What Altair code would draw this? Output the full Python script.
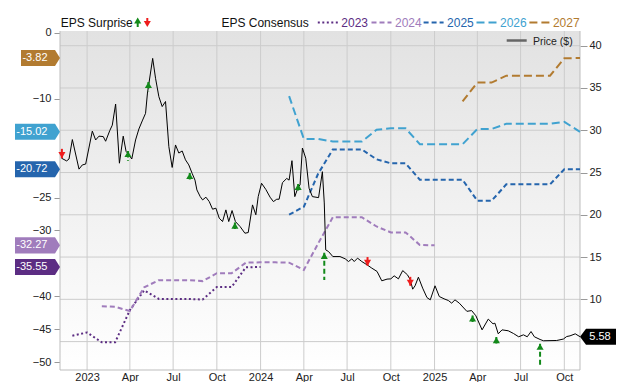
import altair as alt
import pandas as pd

FONT = "Liberation Sans, Arial, Helvetica, sans-serif"
W, H = 520, 339

# ---------------- data ----------------
price_dates = [
    "2022-11-08", "2022-11-19", "2022-11-24", "2022-12-01", "2022-12-15", "2022-12-22", "2022-12-29", "2023-01-12", "2023-01-19", "2023-01-26",
    "2023-02-04", "2023-02-09", "2023-02-18", "2023-02-23", "2023-03-02", "2023-03-10", "2023-03-18", "2023-03-24", "2023-03-30", "2023-04-05",
    "2023-04-13", "2023-04-20", "2023-04-27", "2023-05-04", "2023-05-08", "2023-05-19", "2023-05-25", "2023-06-01", "2023-06-08", "2023-06-15",
    "2023-06-22", "2023-06-29", "2023-07-06", "2023-07-13", "2023-07-20", "2023-07-27", "2023-08-03", "2023-08-10", "2023-08-16", "2023-08-20",
    "2023-08-27", "2023-09-01", "2023-09-08", "2023-09-15", "2023-09-22", "2023-09-29", "2023-10-06", "2023-10-13", "2023-10-20", "2023-10-26",
    "2023-11-02", "2023-11-09", "2023-11-19", "2023-11-29", "2023-12-06", "2023-12-15", "2023-12-22", "2023-12-27", "2024-01-03", "2024-01-12",
    "2024-01-21", "2024-01-28", "2024-02-04", "2024-02-09", "2024-02-16", "2024-02-25", "2024-03-01", "2024-03-07", "2024-03-13", "2024-03-20",
    "2024-03-24", "2024-03-29", "2024-04-05", "2024-04-12", "2024-04-19", "2024-05-02", "2024-05-10", "2024-05-14", "2024-05-17", "2024-05-23",
    "2024-06-01", "2024-06-16", "2024-06-27", "2024-07-04", "2024-07-11", "2024-07-16", "2024-07-23", "2024-08-01", "2024-08-12", "2024-08-22",
    "2024-09-02", "2024-09-12", "2024-09-23", "2024-10-01", "2024-10-08", "2024-10-17", "2024-10-26", "2024-11-05", "2024-11-11", "2024-11-16",
    "2024-11-21", "2024-11-28", "2024-12-07", "2024-12-16", "2024-12-23", "2025-01-02", "2025-01-11", "2025-01-21", "2025-01-30", "2025-02-06",
    "2025-02-13", "2025-02-22", "2025-03-10", "2025-03-20", "2025-03-29", "2025-04-11", "2025-04-24", "2025-05-04", "2025-05-08", "2025-05-15",
    "2025-05-23", "2025-06-05", "2025-06-16", "2025-06-27", "2025-07-07", "2025-07-15", "2025-07-23", "2025-07-30", "2025-08-11", "2025-08-18",
    "2025-09-15", "2025-09-29", "2025-10-06", "2025-10-13", "2025-10-24", "2025-11-03",
]
price_values = [
    26.7, 26.37, 26.6, 28.9, 25.4, 25.9, 26.0, 29.9, 28.85, 29.3,
    29.25, 28.7, 30.0, 30.6, 33.1, 26.1, 29.3, 27.5, 27.1, 26.6,
    28.85, 30.15, 31.1, 32.0, 34.4, 38.5, 36.15, 33.97, 32.8, 33.4,
    28.06, 25.6, 28.26, 27.3, 27.55, 26.5, 25.9, 24.9, 24.1, 22.94,
    22.15, 21.76, 22.08, 21.56, 20.66, 20.78, 19.6, 19.2, 20.58, 19.2,
    20.5, 19.2, 18.6, 17.82, 17.9, 21.17, 20.0, 22.15, 23.73, 23.0,
    22.08, 21.56, 21.84, 21.84, 23.8, 24.3, 24.1, 26.4, 22.15, 23.26,
    23.53, 27.9, 26.69, 23.14, 22.15, 22.03, 25.1, 21.4, 15.85, 15.65,
    15.06, 15.06, 14.79, 14.47, 14.79, 14.47, 14.87, 14.47, 14.08, 13.69,
    13.3, 12.19, 12.39, 12.42, 12.78, 12.42, 13.4, 12.9, 12.3, 11.2,
    11.6, 12.62, 11.32, 10.21, 9.94, 11.6, 10.33, 10.06, 9.86, 9.55,
    9.94, 9.55, 8.58, 8.67, 8.05, 6.39, 7.66, 7.1, 7.18, 5.92,
    6.39, 6.28, 5.96, 5.57, 5.8, 5.57, 6.19, 5.57, 5.25, 5.1,
    5.13, 5.3, 5.6, 5.68, 5.92, 5.58,
]

fy_labels = ["2023", "2024", "2025", "2026", "2027"]
fy_colors = ["#5c2d83", "#a07cbc", "#2565ad", "#40a2d0", "#b27b30"]
fy_dashes = [[2, 2.5], [5, 3], [5, 3], [8, 4], [8, 4]]

eps2023_dates = ["2022-12-01", "2023-01-01", "2023-02-01", "2023-03-01", "2023-04-01", "2023-05-01", "2023-06-01",
                 "2023-07-01", "2023-08-01", "2023-09-01", "2023-10-01", "2023-11-01", "2023-12-01", "2024-01-01"]
eps2023_values = [-46.0, -45.5, -47.0, -47.0, -42.1, -39.1, -40.4, -40.4, -40.4, -40.5, -38.6, -38.6, -35.6, -35.55]

eps2024_dates = ["2023-02-01", "2023-03-01", "2023-04-01", "2023-05-01", "2023-06-01", "2023-07-01", "2023-08-01",
                 "2023-09-01", "2023-10-01", "2023-11-01", "2023-12-01", "2024-01-01", "2024-02-01", "2024-03-01",
                 "2024-04-01", "2024-05-01", "2024-06-01", "2024-07-01", "2024-08-01", "2024-09-01", "2024-10-01",
                 "2024-11-01", "2024-12-01", "2025-01-01"]
eps2024_values = [-41.5, -41.6, -42.25, -38.65, -37.55, -37.55, -37.55, -37.7, -36.5, -36.5, -34.9, -34.85, -34.85, -34.9,
                  -36.0, -32.0, -28.0, -28.0, -28.0, -29.4, -30.3, -30.3, -32.2, -32.27]

eps2025_dates = ["2024-03-01", "2024-04-01", "2024-05-01", "2024-06-01", "2024-07-01", "2024-08-01", "2024-09-01",
                 "2024-10-01", "2024-11-01", "2024-12-01", "2025-01-01", "2025-02-01", "2025-03-01", "2025-04-01",
                 "2025-05-01", "2025-06-01", "2025-07-01", "2025-08-01", "2025-09-01", "2025-10-01", "2025-11-03"]
eps2025_values = [-27.6, -26.4, -21.4, -17.7, -17.7, -17.7, -19.2, -19.8, -19.8, -22.3, -22.3, -22.3, -22.3, -25.5,
                  -25.5, -23.0, -23.0, -23.0, -23.0, -20.7, -20.72]

eps2026_dates = eps2025_dates
eps2026_values = [-9.6, -16.1, -16.1, -16.5, -16.5, -16.5, -14.7, -14.5, -14.5, -16.9, -16.9, -16.9, -16.9, -14.6,
                  -14.6, -13.8, -13.8, -13.8, -13.8, -13.5, -15.02]

eps2027_dates = ["2025-03-01", "2025-04-01", "2025-05-01", "2025-06-01", "2025-07-01", "2025-08-01", "2025-09-01",
                 "2025-10-01", "2025-11-03"]
eps2027_values = [-10.4, -7.55, -7.55, -6.5, -6.5, -6.5, -6.5, -3.85, -3.82]

# EPS surprise arrows (placed on the price line)
up_dates = ["2023-03-28", "2023-05-10", "2023-08-05", "2023-11-08", "2024-03-20", "2024-05-14", "2025-03-22", "2025-05-11", "2025-08-11"]
up_tips = [27.55, 35.7, 24.95, 19.08, 23.65, 15.5, 8.08, 5.53, 4.74]
up_tails = [26.4, 34.6, 23.9, 18.1, 22.7, 12.3, 7.2, 4.6, 2.0]
up_long = [False, False, False, False, False, True, False, False, True]

down_dates = ["2022-11-09", "2024-08-13", "2024-11-11"]
down_tails = [27.8, 15.0, 12.66]
down_tips = [26.7, 13.96, 11.6]

x_ticks = ["2023-01-01", "2023-04-01", "2023-07-01", "2023-10-01", "2024-01-01", "2024-04-01", "2024-07-01",
           "2024-10-01", "2025-01-01", "2025-04-01", "2025-07-01", "2025-10-01"]
price_grid = [5, 10, 15, 20, 25, 30, 35, 40]
price_labels = [10, 15, 20, 25, 30, 35, 40]          # "5" sits under the price tag
eps_labels = [-50, -45, -40, -30, -25, -10, 0]       # the rest sit under the consensus tags

GREEN = "#12891a"
RED = "#ee1c1c"

# ---------------- frames ----------------
price_df = pd.DataFrame({"date": price_dates, "price": price_values})
eps_lists = [(eps2023_dates, eps2023_values), (eps2024_dates, eps2024_values), (eps2025_dates, eps2025_values),
             (eps2026_dates, eps2026_values), (eps2027_dates, eps2027_values)]
eps_df = pd.concat([pd.DataFrame({"date": d, "eps": v, "fy": fy}) for fy, (d, v) in zip(fy_labels, eps_lists)])

tag_rows = []
for fy, (d, v) in zip(fy_labels, eps_lists):
    lab = f"{v[-1]:.2f}"
    xl = -1.0 if len(lab) >= 6 else -0.733
    path = f"M{xl},-0.356L0.778,-0.356L1,0L0.778,0.356L{xl},0.356Z"
    tag_rows.append({"fy": fy, "eps": v[-1], "label": lab, "path": path})
tag_df = pd.DataFrame(tag_rows)

up_df = pd.DataFrame({"date": up_dates, "tip": up_tips, "tail": up_tails, "long": up_long})
down_df = pd.DataFrame({"date": down_dates, "tip": down_tips, "tail": down_tails})
xt_df = pd.DataFrame({"date": x_ticks})
pt_df = pd.DataFrame({"price": price_grid})
last_df = pd.DataFrame({"price": [price_values[-1]], "label": [f"{price_values[-1]:.2f}"]})
one = pd.DataFrame({"a": [0]})

# ---------------- scales / axes ----------------
def dt(s):
    y, m, d = (int(p) for p in s.split("-"))
    return alt.DateTime(year=y, month=m, date=d, utc=True)

xscale = alt.Scale(type="utc", domain=[dt("2022-11-05"), dt("2025-11-03")])
xaxis = alt.Axis(values=[dt(s) for s in x_ticks], grid=False, ticks=False, domain=False, labelFlush=False,
                 labelOverlap=False, labelPadding=1, labelFontSize=11, labelColor="#222", labelFont=FONT,
                 labelExpr="utcFormat(datum.value, '%m') == '01' ? utcFormat(datum.value, '%Y') : utcFormat(datum.value, '%b')",
                 title=None)

def X(field="date"):
    return alt.X(f"{field}:T", scale=xscale, axis=xaxis, title=None)

pscale = alt.Scale(domain=[1.64, 41.74], nice=False, zero=False)
escale = alt.Scale(domain=[-51.2, 0.29], nice=False, zero=False)

paxis = alt.Axis(orient="right", values=price_labels, grid=False, domain=False, tickColor="#999", tickSize=7,
                 labelPadding=2, labelFontSize=11, labelColor="#222", labelFont=FONT, labelOverlap=False, title=None)
eaxis = alt.Axis(orient="left", values=eps_labels, grid=False, domain=False, tickColor="#999", tickSize=6,
                 labelPadding=3, labelFontSize=11, labelColor="#222", labelFont=FONT, labelOverlap=False,
                 labelFlush=False, labelBound=False, title=None)

def YP(field="price", axis=True):
    return alt.Y(f"{field}:Q", scale=pscale, axis=paxis if axis else None, title=None)

def YE(field="eps"):
    return alt.Y(f"{field}:Q", scale=escale, axis=eaxis, title=None)

color_fy = alt.Color("fy:N", scale=alt.Scale(domain=fy_labels, range=fy_colors), legend=None)
dash_fy = alt.StrokeDash("fy:N", scale=alt.Scale(domain=fy_labels, range=fy_dashes), legend=None)

# ---------------- layer A: background, grid, axes ----------------
grad = alt.LinearGradient(gradient="linear",
                          stops=[alt.GradientStop(color="#e2e2e2", offset=0), alt.GradientStop(color="#ffffff", offset=1)],
                          x1=0, x2=0, y1=0, y2=1)
bg = alt.Chart(one).mark_rect(fill=grad, strokeWidth=0).encode(
    x=alt.value(0), x2=alt.value(W), y=alt.value(0), y2=alt.value(H))
vgrid = alt.Chart(xt_df).mark_rule(color="#cccccc", strokeWidth=1).encode(x=X(), y=alt.value(0), y2=alt.value(H))
hgrid = alt.Chart(pt_df).mark_rule(color="#cccccc", strokeWidth=1).encode(y=YP(), x=alt.value(0), x2=alt.value(W))
bl = alt.Chart(one).mark_rule(color="#bdbdbd", strokeWidth=1).encode(x=alt.value(0), y=alt.value(0), y2=alt.value(H))
br = alt.Chart(one).mark_rule(color="#bdbdbd", strokeWidth=1).encode(x=alt.value(W), y=alt.value(0), y2=alt.value(H))
bb = alt.Chart(one).mark_rule(color="#bdbdbd", strokeWidth=1).encode(x=alt.value(0), x2=alt.value(W), y=alt.value(H))
layerA = alt.layer(bg, vgrid, hgrid, bl, br, bb)

# ---------------- layer B: EPS consensus ----------------
eps_lines = alt.Chart(eps_df).mark_line(strokeWidth=2).encode(
    x=X(), y=YE(), color=color_fy, strokeDash=dash_fy, detail="fy:N")
tags = alt.Chart(tag_df).mark_point(filled=True, size=2025, opacity=1, strokeWidth=0).encode(
    x=alt.value(-22.5), y=YE(), color=color_fy, shape=alt.Shape("path:N", scale=None))
tag_text = alt.Chart(tag_df).mark_text(align="right", baseline="middle", fontSize=11, font=FONT, color="white").encode(
    x=alt.value(-12.5), y=YE(), text="label:N")

leg = []
leg.append(alt.Chart(one).mark_text(text="EPS Surprise", align="left", baseline="alphabetic", fontSize=12, font=FONT,
                                    color="#111").encode(x=alt.value(0.7), y=alt.value(-4.3)))
leg.append(alt.Chart(one).mark_rule(color=GREEN, strokeWidth=2).encode(x=alt.value(77.7), y=alt.value(-9), y2=alt.value(-4)))
leg.append(alt.Chart(one).mark_point(shape="triangle-up", filled=True, size=50, opacity=1, color=GREEN).encode(
    x=alt.value(77.7), y=alt.value(-10.5)))
leg.append(alt.Chart(one).mark_rule(color=RED, strokeWidth=2).encode(x=alt.value(87.3), y=alt.value(-13), y2=alt.value(-8)))
leg.append(alt.Chart(one).mark_point(shape="triangle-down", filled=True, size=50, opacity=1, color=RED).encode(
    x=alt.value(87.3), y=alt.value(-7)))
leg.append(alt.Chart(one).mark_text(text="EPS Consensus", align="left", baseline="alphabetic", fontSize=12, font=FONT,
                                    color="#111").encode(x=alt.value(161.4), y=alt.value(-4.3)))
leg_x = [257.8, 311.5, 363.6, 416.5, 469.4]
for fy, col, dash, lx in zip(fy_labels, fy_colors, fy_dashes, leg_x):
    leg.append(alt.Chart(one).mark_rule(color=col, strokeWidth=2, strokeDash=dash).encode(
        x=alt.value(lx), x2=alt.value(lx + 20), y=alt.value(-8.5)))
    leg.append(alt.Chart(one).mark_text(text=fy, align="left", baseline="alphabetic", fontSize=12, font=FONT,
                                        color=col).encode(x=alt.value(lx + 23.5), y=alt.value(-4.3)))
layerB = alt.layer(eps_lines, tags, tag_text, *leg)

# ---------------- layer C: price ----------------
price_line = alt.Chart(price_df).mark_line(color="black", strokeWidth=1).encode(x=X(), y=YP(axis=False))
up_rule = alt.Chart(up_df).mark_rule(color=GREEN, strokeWidth=2).encode(
    x=X(), y=YP("tip", False), y2="tail:Q",
    strokeDash=alt.StrokeDash("long:N", scale=alt.Scale(domain=[False, True], range=[[1, 0], [3, 2]]), legend=None))
up_head = alt.Chart(up_df).mark_point(shape="triangle-up", filled=True, size=50, opacity=1, color=GREEN).encode(
    x=X(), y=YP("tip", False), yOffset=alt.value(3))
down_rule = alt.Chart(down_df).mark_rule(color=RED, strokeWidth=2).encode(x=X(), y=YP("tip", False), y2="tail:Q")
down_head = alt.Chart(down_df).mark_point(shape="triangle-down", filled=True, size=50, opacity=1, color=RED).encode(
    x=X(), y=YP("tip", False), yOffset=alt.value(-3))
ptag = alt.Chart(last_df).mark_point(shape="M-1,0L-0.667,-0.444L1,-0.444L1,0.444L-0.667,0.444Z", filled=True,
                                     size=1296, opacity=1, color="black", strokeWidth=0).encode(
    x=alt.value(538), y=YP(axis=False))
ptag_text = alt.Chart(last_df).mark_text(align="center", baseline="middle", fontSize=11, font=FONT, color="white").encode(
    x=alt.value(540), y=YP(axis=False), text="label:N")
pleg_line = alt.Chart(one).mark_rule(color="#666666", strokeWidth=2.5).encode(
    x=alt.value(446.7), x2=alt.value(466.7), y=alt.value(9.5))
pleg_text = alt.Chart(one).mark_text(text="Price ($)", align="left", baseline="alphabetic", fontSize=10.5, font=FONT,
                                     color="#222").encode(x=alt.value(473), y=alt.value(14))
layerC = alt.layer(price_line, up_rule, up_head, down_rule, down_head, ptag, ptag_text, pleg_line, pleg_text)

chart = alt.layer(layerA, layerB, layerC).resolve_scale(y="independent").properties(
    width=W, height=H, autosize=alt.AutoSizeParams(type="none"),
    padding={"left": 52, "top": 23, "right": 52, "bottom": 12},
).configure_view(stroke=None)

chart.save("out.html", embed_options={"renderer": "svg", "actions": False})
